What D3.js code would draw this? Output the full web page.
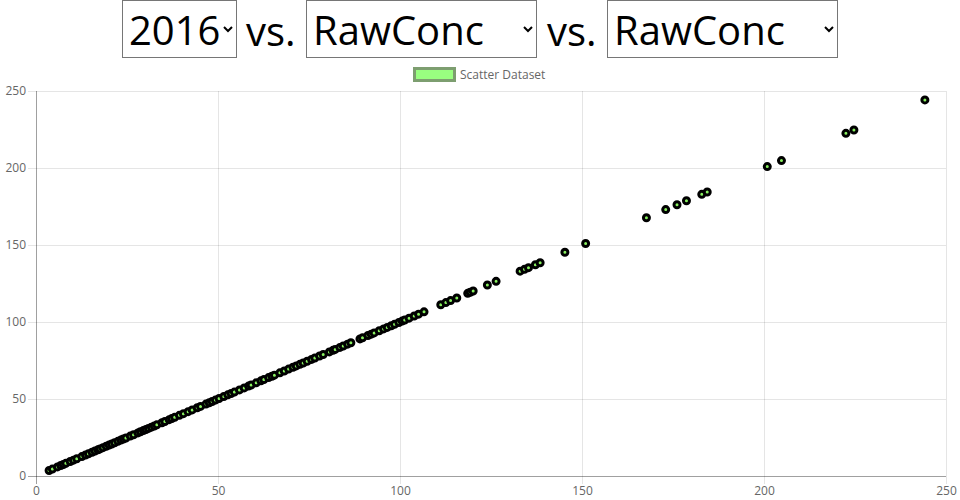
<!DOCTYPE html>
<html>
<head>
<meta charset="utf-8">
<script src="https://cdn.jsdelivr.net/npm/d3@7"></script>
<style>
  html, body { margin: 0; padding: 0; background: #fff; }
  #wrap { position: relative; width: 960px; height: 500px; overflow: hidden; }
  #chart { position: absolute; left: 0; top: 0; }
  .sel {
    position: absolute; top: 0; height: 58px; box-sizing: border-box;
    font-family: "Open Sans", "Noto Sans", sans-serif; font-size: 40px; color: #000;
    background: #fff; border: 1px solid #767676; border-radius: 0; padding: 0 0 0 2px; margin: 0;
  }
  .vs { position: absolute; top: 0; height: 58px; line-height: 62px;
    font-family: "Open Sans", "Noto Sans", sans-serif; font-size: 40px; color: #000; }
</style>
</head>
<body>
<div id="wrap">
  <svg id="chart" width="960" height="500"></svg>
</div>
<script>
// ---- data ----
const yearOptions = ["2016"];
const fieldOptions = ["RawConc"];
const xTicks = [0, 50, 100, 150, 200, 250];
const yTicks = [0, 50, 100, 150, 200, 250];
const seriesLabel = "Scatter Dataset";
// RawConc vs RawConc (x == y)
const rawConcX = [
  3.6, 4.5, 5.9, 6.8, 7.5, 8.2, 9.4, 10.3, 11.2, 12.6, 13.6, 14.4, 15.4, 16.2, 17.0, 17.6,
  18.4, 19.3, 20.1, 20.8, 21.6, 22.5, 23.3, 24.0, 24.7, 25.9, 26.8, 28.0, 28.7, 29.5, 30.2,
  30.9, 31.7, 32.5, 33.2, 34.6, 35.4, 36.6, 37.3, 38.1, 39.4, 40.5, 41.8, 42.9, 44.3, 45.2,
  46.7, 47.6, 48.4, 49.3, 50.3, 51.6, 52.7, 53.6, 54.5, 55.9, 57.2, 58.4, 59.1, 60.5, 61.8,
  62.6, 63.9, 64.8, 65.5, 67.0, 68.2, 69.4, 70.6, 71.5, 72.5, 73.4, 74.5, 75.7, 76.6, 77.9,
  78.9, 80.6, 81.6, 82.2, 83.5, 84.4, 85.6, 86.5, 89.0, 89.7, 91.2, 92.1, 92.9, 94.3, 95.5,
  96.5, 97.6, 98.5, 99.7, 100.6, 101.3, 102.5, 103.9, 105.1, 106.6,
  111.2, 112.6, 113.9, 115.6, 118.6, 119.3, 120.1, 124.0, 126.4, 133.0, 134.2, 135.3, 137.2,
  138.5, 145.3, 151.0, 167.7, 173.0, 176.1, 178.7, 182.9, 184.4, 200.9, 204.8, 222.5, 224.7, 244.2
];
const rawConcY = rawConcX.slice();

// ---- header controls ----
const wrap = d3.select("#wrap");
function addSelect(left, width, options) {
  const s = wrap.append("select").attr("class", "sel")
    .style("left", left + "px").style("width", width + "px");
  s.selectAll("option").data(options).join("option").text(d => d);
}
addSelect(122, 115, yearOptions);
wrap.append("span").attr("class", "vs").style("left", "246px").text("vs.");
addSelect(306, 231, fieldOptions);
wrap.append("span").attr("class", "vs").style("left", "547px").text("vs.");
addSelect(607, 231, fieldOptions);

// ---- chart ----
const svg = d3.select("#chart");
const L = 36, R = 946, T = 91, B = 476;
const x = d3.scaleLinear().domain([0, 250]).range([L, R]);
const y = d3.scaleLinear().domain([0, 250]).range([B, T]);
const font = '"Open Sans", "Noto Sans", sans-serif';

// legend
const lg = svg.append("g");
lg.append("rect").attr("x", 414.5).attr("y", 68.5).attr("width", 40).attr("height", 12)
  .attr("fill", "#99ff80").attr("stroke", "#7d9e70").attr("stroke-width", 3);
lg.append("text").attr("x", 460).attr("y", 78.5).attr("font-family", font).attr("font-size", 12)
  .attr("fill", "#666").text(seriesLabel);

// y axis + grid
const gy = svg.append("g").attr("transform", `translate(${L},0)`)
  .call(d3.axisLeft(y).tickValues(yTicks).tickSizeInner(-(R - L)).tickSizeOuter(0).tickPadding(10));
gy.select(".domain").remove();
gy.selectAll(".tick line").attr("x1", -8).attr("stroke", "rgba(0,0,0,0.1)");
gy.selectAll(".tick text").attr("font-family", font).attr("font-size", 12).attr("fill", "#666");

// x axis + grid
const gx = svg.append("g").attr("transform", `translate(0,${B})`)
  .call(d3.axisBottom(x).tickValues(xTicks).tickSizeInner(-(B - T)).tickSizeOuter(0).tickPadding(10));
gx.select(".domain").remove();
gx.selectAll(".tick line").attr("y1", 8).attr("stroke", "rgba(0,0,0,0.1)");
gx.selectAll(".tick text").attr("font-family", font).attr("font-size", 12).attr("fill", "#666")
  .attr("y", 19).attr("dy", null);

// axis lines
svg.append("line").attr("x1", L + 0.5).attr("x2", L + 0.5).attr("y1", T).attr("y2", B + 8)
  .attr("stroke", "rgba(0,0,0,0.3)");
svg.append("line").attr("x1", L - 8).attr("x2", R).attr("y1", B + 0.5).attr("y2", B + 0.5)
  .attr("stroke", "rgba(0,0,0,0.3)");

// points
const pts = rawConcX.map((v, i) => ({ x: v, y: rawConcY[i] }));
svg.append("g").selectAll("circle").data(pts).join("circle")
  .attr("cx", d => x(d.x)).attr("cy", d => y(d.y)).attr("r", 3)
  .attr("fill", "#88f060").attr("stroke", "#000").attr("stroke-width", 3);
</script>
</body>
</html>
